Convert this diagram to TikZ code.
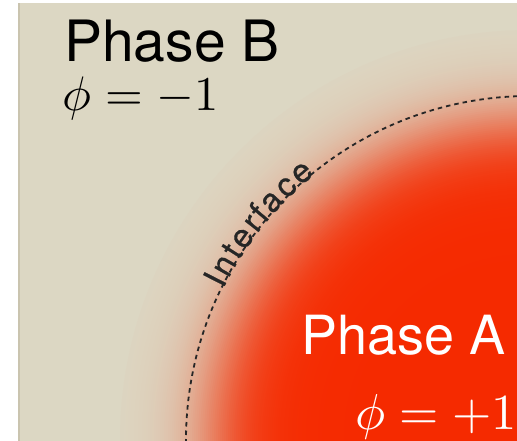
\documentclass[tikz,border=0pt]{standalone}
\usepackage{fontspec}
\setmainfont{TeX Gyre Heros}
\newfontfamily\ifacefont[FakeBold=0.6]{TeX Gyre Heros}
\definecolor{beigebg}{HTML}{DCD7C3}
\definecolor{beigeedge}{HTML}{CAC4AF}
\definecolor{phasered}{HTML}{F52A00}
\tikzset{
  phaselabel/.style={inner sep=0pt, anchor=base west},
  mathlabel/.style={inner sep=0pt, anchor=base west},
  letter/.style={inner sep=0pt, anchor=base, text=black!85, font=\ifacefont\fontsize{33}{33}\selectfont},
  interfaceline/.style={draw=black!85, line width=1.8pt, dash pattern=on 4.5pt off 4pt}
}
\begin{document}
\begin{tikzpicture}[x=1pt,y=1pt]
\useasboundingbox (0,0) rectangle (517,441);
\fill[white] (0,0) rectangle (517,441);
\begin{scope}
  \clip (18,0) rectangle (517,438);
  \fill[beigebg] (18,0) rectangle (517,438);
  \coordinate (c) at (530,1);
  \foreach \i in {0,...,115} {
    \pgfmathsetmacro\r{410-2*\i}
    \pgfmathsetmacro\f{100/(1+exp((\r-318)/22))}
    \fill[phasered!\f!beigebg] (c) circle[radius=\r];
  }
  \fill[phasered] (c) circle[radius=180];
  \draw[interfaceline] ([shift={(182:344)}]c) arc[start angle=182, end angle=86, radius=344];
  \fill[beigeedge] (18,0) rectangle (19.5,438);
\end{scope}
\foreach \a/\ch [count=\k] in {153.0/I, 150.3/n, 147.6/t, 144.9/e, 142.0/r, 140.0/f, 137.3/a, 133.9/c, 130.5/e} {
  \node[letter, rotate=\a-90, name=L\k] at ([shift={(\a:342)}]c) {\ch};
}
\node[phaselabel, text=black, font=\fontsize{57}{62}\selectfont] (pb) at (64,379) {Phase B};
\node[mathlabel, scale=4.85] (mb) at (62,330) {$\phi = -1$};
\node[phaselabel, text=white, anchor=base east, font=\fontsize{54}{60}\selectfont] (pa) at (506,86) {Phase A};
\node[mathlabel, scale=5.05, text=white, anchor=base east] (ma) at (518,11) {$\phi = +1$};
\end{tikzpicture}
\end{document}
